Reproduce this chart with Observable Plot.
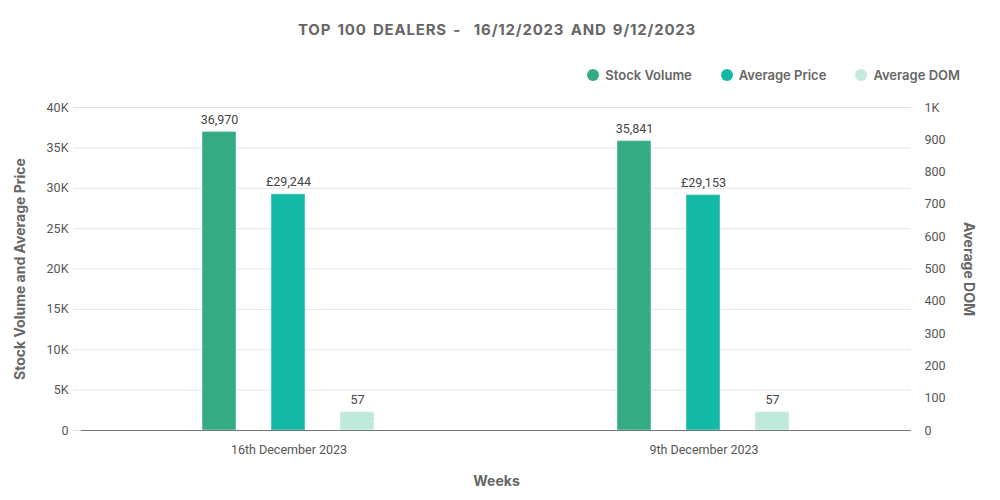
<!DOCTYPE html>
<html>
<head>
<meta charset="utf-8">
<script src="https://cdn.jsdelivr.net/npm/d3@7"></script>
<script src="https://cdn.jsdelivr.net/npm/@observablehq/plot@0.6"></script>
<style>
  html, body { margin: 0; padding: 0; background: #fff; }
  #wrap { width: 1000px; height: 500px; position: relative; }
  #title { height: 60px; line-height: 60px; text-align: center; font-family: Inter, sans-serif; font-weight: 700; font-size: 15px; letter-spacing: 0.8px; color: #666; word-spacing: 2px; padding-right: 6px; }
  #legend { height: 30px; display: flex; justify-content: flex-end; align-items: center; padding-right: 40px; font-family: Inter, sans-serif; font-weight: 600; font-size: 13px; color: #666; }
  #legend .item { display: flex; align-items: center; margin-left: 29px; }
  #legend .dot { width: 12px; height: 12px; border-radius: 50%; margin-right: 6px; }
  svg [aria-label="y-axis label"] text, svg [aria-label="fx-axis label"] text, svg [aria-label="y-axis label"], svg [aria-label="fx-axis label"] { font-family: Inter, sans-serif; font-weight: 700; font-size: 14px; fill: #666; }
</style>
</head>
<body>
<div id="wrap">
  <div id="title">TOP 100 DEALERS -&nbsp; 16/12/2023 AND 9/12/2023</div>
  <div id="legend"></div>
  <div id="chart"></div>
</div>
<script>
const weeks = ["16th December 2023", "9th December 2023"];
const series = ["Stock Volume", "Average Price", "Average DOM"];
const stockVolume = [36970, 35841];
const averagePrice = [29244, 29153];
const averageDOM = [57, 57];
const leftTicks = [0, 5000, 10000, 15000, 20000, 25000, 30000, 35000, 40000];
const rightTicks = [0, 100, 200, 300, 400, 500, 600, 700, 800, 900, 1000];
const leftMax = 40000;
const rightMax = 1000;
const colors = ["#35ab84", "#14b9a6", "url(#domDots)"];
const legendColors = ["#35ab84", "#14b9a6", "#c2ebdc"];

const ratio = leftMax / rightMax;
const fmtK = d => d === 0 ? "0" : (d >= 1000 ? d / 1000 + "K" : String(d));
const fmtN = d3.format(",");

const rows = [];
weeks.forEach((w, i) => {
  rows.push({week: w, series: series[0], value: stockVolume[i], plotted: stockVolume[i], label: fmtN(stockVolume[i])});
  rows.push({week: w, series: series[1], value: averagePrice[i], plotted: averagePrice[i], label: "£" + fmtN(averagePrice[i])});
  rows.push({week: w, series: series[2], value: averageDOM[i], plotted: averageDOM[i] * ratio, label: String(averageDOM[i])});
});

// legend
const legend = document.getElementById("legend");
series.forEach((s, i) => {
  const it = document.createElement("div");
  it.className = "item";
  it.innerHTML = `<span class="dot" style="background:${legendColors[i]}"></span><span>${s}</span>`;
  legend.appendChild(it);
});

const chart = Plot.plot({
  width: 1000,
  height: 410,
  marginTop: 17,
  marginBottom: 70,
  marginLeft: 81,
  marginRight: 89,
  style: {fontFamily: "Roboto, sans-serif", fontSize: "12.5px", color: "#555", background: "#fff"},
  fx: {domain: weeks, padding: 0},
  x: {domain: series, paddingInner: 0.507, paddingOuter: 1.76, axis: null},
  y: {domain: [0, leftMax]},
  color: {domain: series, range: colors},
  marks: [
    Plot.gridY(leftTicks, {stroke: "#e3e3e3", strokeOpacity: 1}),
    Plot.axisY(leftTicks, {anchor: "left", tickSize: 8, tickPadding: 5, stroke: "#e3e3e3", tickFormat: fmtK, label: "Stock Volume and Average Price", labelArrow: "none", labelAnchor: "center", labelOffset: 66, fill: "#555"}),
    Plot.axisY(rightTicks.map(d => d * ratio), {anchor: "right", tickSize: 0, tickPadding: 13, tickFormat: d => fmtK(d / ratio), label: "Average DOM", labelArrow: "none", labelAnchor: "center", labelOffset: 52, fill: "#555"}),
    Plot.axisFx({anchor: "bottom", tickSize: 0, tickPadding: 15, label: "Weeks", labelArrow: "none", labelAnchor: "center", labelOffset: 55, fill: "#555"}),
    Plot.barY(rows, {fx: "week", x: "series", y: "plotted", fill: "series", stroke: "#ffffff", strokeOpacity: 0.35, strokeWidth: 1.2}),
    Plot.text(rows, {fx: "week", x: "series", y: "plotted", text: "label", dy: -12, fill: "#444", fontSize: 12.5}),
    Plot.ruleY([0], {stroke: "#777", strokeWidth: 1.2})
  ]
});

// right axis label reads top-to-bottom
const yLabels = chart.querySelectorAll('[aria-label="y-axis label"] text');
if (yLabels.length > 1) {
  const t = yLabels[yLabels.length - 1];
  const tr = t.getAttribute("transform") || "";
  t.setAttribute("transform", tr.replace("rotate(-90)", "rotate(90)"));
}

// dotted pattern for Average DOM bars
const defs = d3.select(chart).insert("defs", ":first-child");
const pat = defs.append("pattern").attr("id", "domDots").attr("patternUnits", "userSpaceOnUse").attr("width", 4).attr("height", 4);
pat.append("rect").attr("width", 4).attr("height", 4).attr("fill", "#c2ebdc");
pat.append("circle").attr("cx", 1).attr("cy", 1).attr("r", 0.5).attr("fill", "#9fd8c4");
pat.append("circle").attr("cx", 3).attr("cy", 3).attr("r", 0.4).attr("fill", "#aee0ce");

document.getElementById("chart").appendChild(chart);
</script>
</body>
</html>
